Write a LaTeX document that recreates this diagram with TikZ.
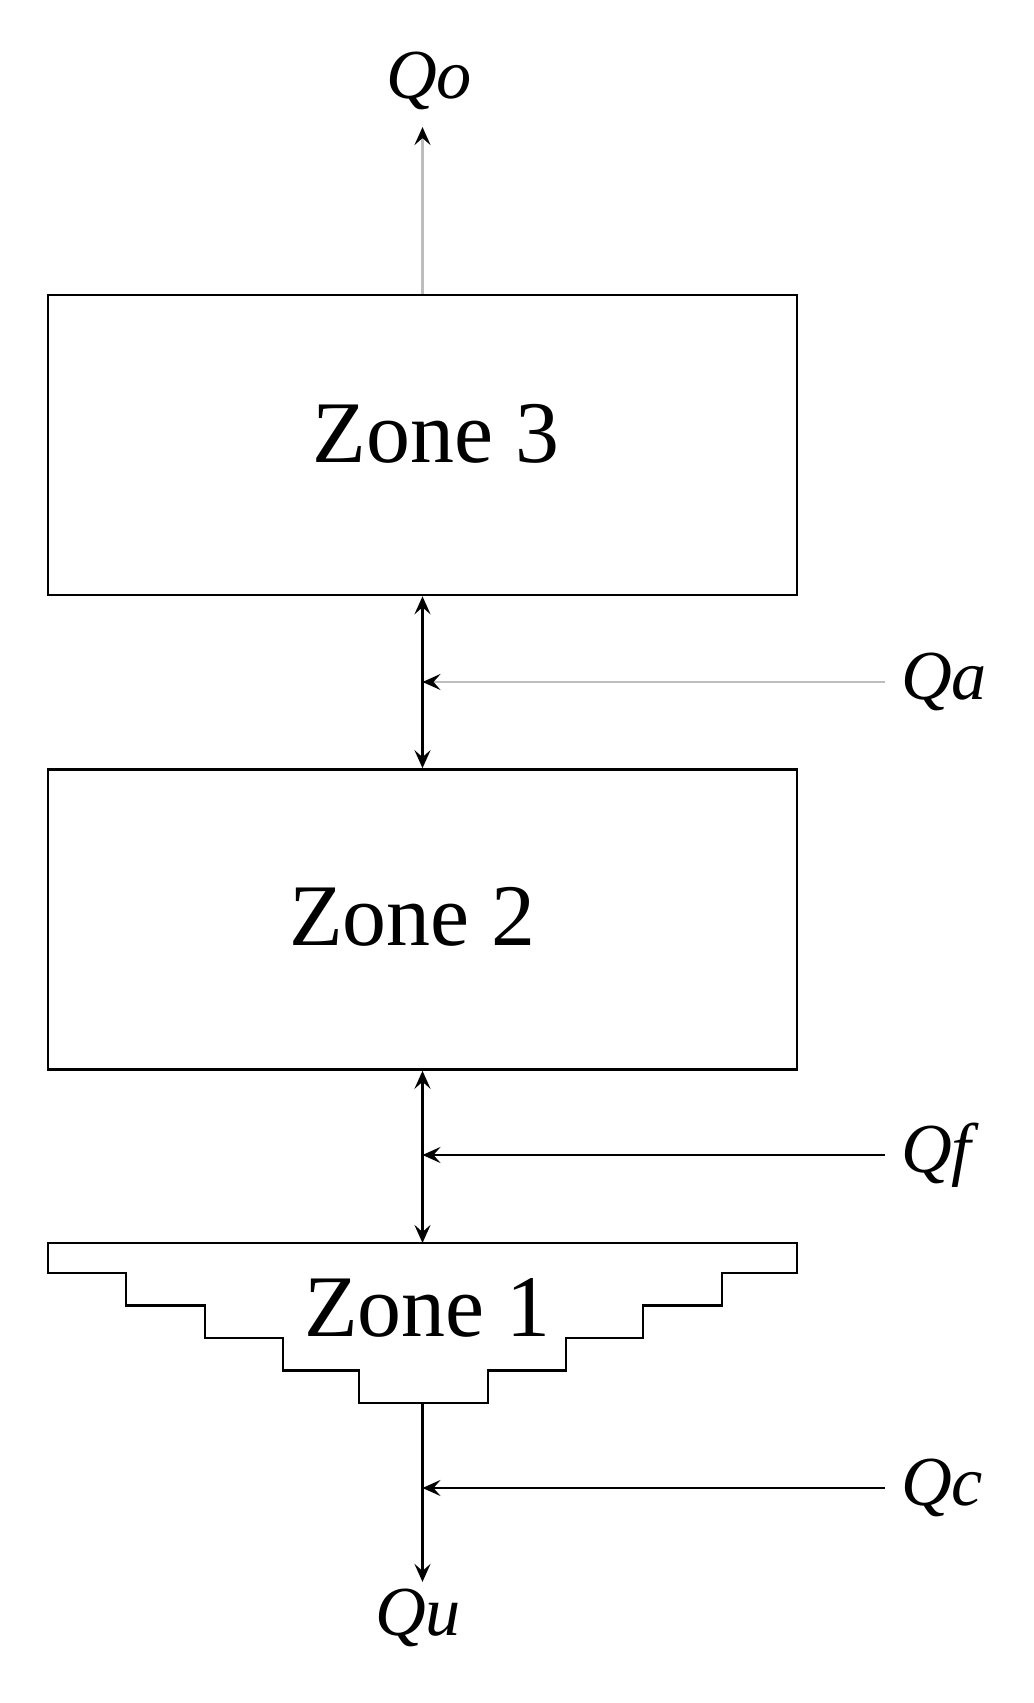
\documentclass[tikz,border=0pt]{standalone}
\usepackage{fontspec}
\setmainfont{Liberation Serif}
\usetikzlibrary{arrows.meta, positioning, calc}
\definecolor{pale}{HTML}{BDBDBD}

\begin{document}
\begin{tikzpicture}[
      zn/.style={draw, line width=1.5pt, minimum width=14.98cm,
                 minimum height=6cm, inner sep=0pt},
      zt/.style={font=\fontsize{50}{60}\selectfont},
      lb/.style={font=\fontsize{40}{48}\selectfont\itshape,
                 inner ysep=1pt, inner xsep=9pt},
      fl/.style={line width=1.5pt,
                 -{Stealth[length=3.6mm, width=3.2mm, inset=1.4mm, black]}},
      dbl/.style={line width=1.5pt,
                 {Stealth[length=3.6mm, width=3.2mm, inset=1.4mm]}-{Stealth[length=3.6mm, width=3.2mm, inset=1.4mm]}},
    ]
    \useasboundingbox (0,0) rectangle (20.66,34.06);

    % zones
    \node[zn] (z3) at (8.45,25.16) {};
    \node[zt] (z3t) at (8.72,25.38) {Zone 3};
    \node[zn] (z2) at (8.45,15.67) {};
    \node[zt] (z2t) at (8.25,15.72) {Zone 2};
    \node[zt] (z1) at (8.55,7.9) {Zone 1};
    \draw[line width=1.5pt] (0.96,9.2) -- (15.94,9.2) -- (15.94,8.6)
      -- (14.44,8.6) -- (14.44,7.95) -- (12.86,7.95) -- (12.86,7.3)
      -- (11.32,7.3) -- (11.32,6.65) -- (9.76,6.65) -- (9.76,6.0)
      -- (7.18,6.0) -- (7.18,6.65) -- (5.66,6.65) -- (5.66,7.3)
      -- (4.1,7.3) -- (4.1,7.95) -- (2.52,7.95) -- (2.52,8.6)
      -- (0.96,8.6) -- cycle;
    \coordinate (z1t) at (8.45,9.2);
    \coordinate (z1b) at (8.45,6.0);

    % outflow top and bottom
    \node[lb] (qo) at (8.58,32.44) {Qo};
    \node[lb] (qu) at (8.36,1.7) {Qu};
    \draw[fl, pale] (z3.north) -- ([yshift=-0.3cm]z3.north |- qo.south);
    \draw[fl] (z1b) -- ([yshift=0.1cm]z1b |- qu.north);

    % exchange between zones
    \draw[dbl] (z3.south) -- (z2.north);
    \draw[dbl] (z2.south) -- (z1t);

    % side inflows
    \foreach \n/\y/\c in {a/20.42/pale, f/10.96/black, c/4.3/black} {
      \node[lb, anchor=west] (q\n) at (17.7,\y) {Q\n};
      \draw[fl, \c] (q\n.west) -- (q\n.west -| z1t);
    }
    \end{tikzpicture}
\end{document}
